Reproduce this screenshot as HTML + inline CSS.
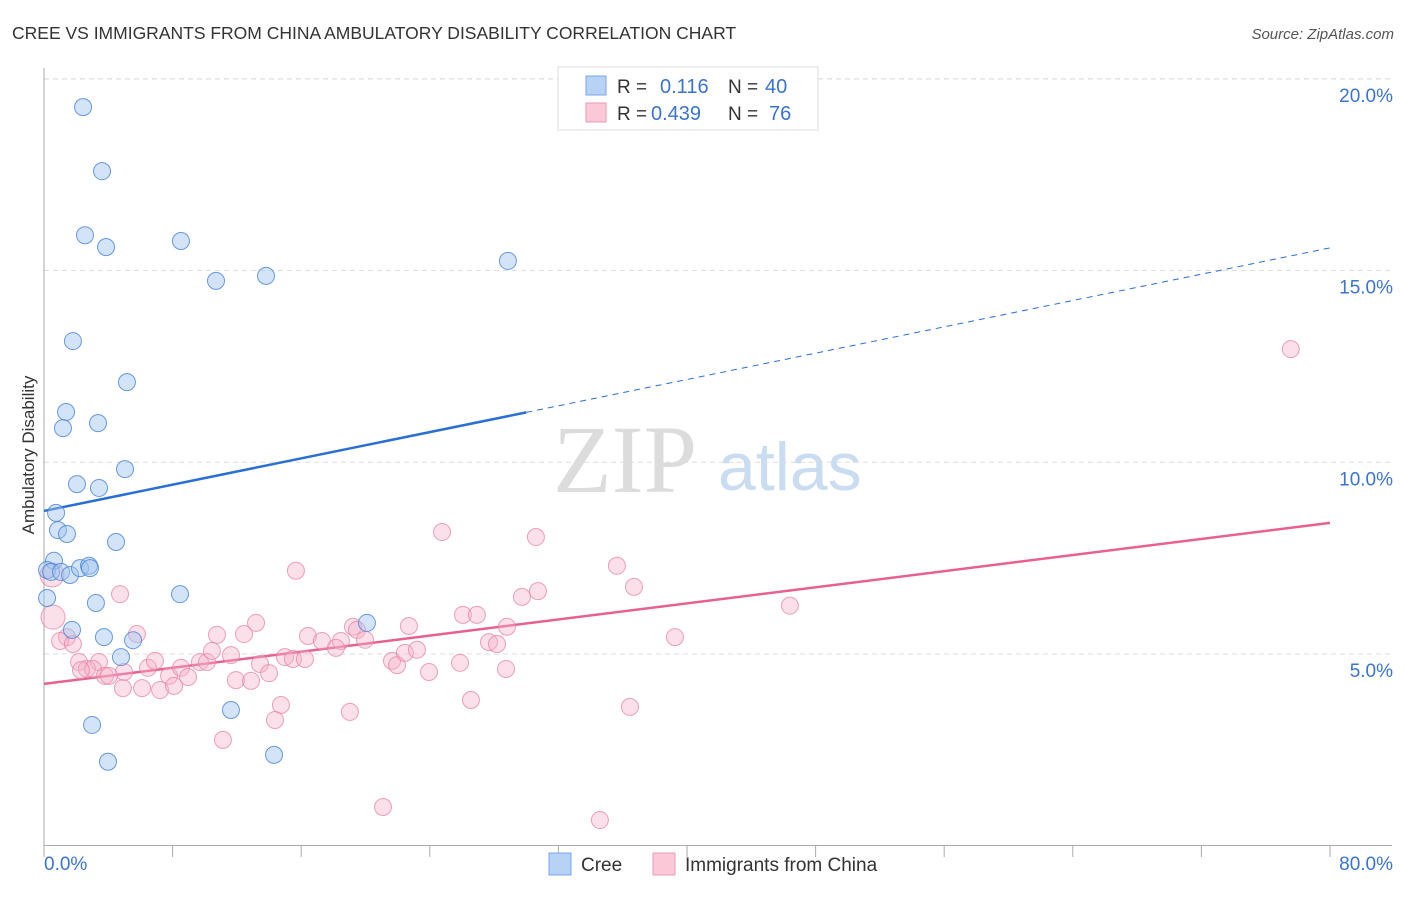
<!DOCTYPE html>
<html><head><meta charset="utf-8"><style>
body{margin:0;background:#fff;width:1406px;height:892px;overflow:hidden;font-family:"Liberation Sans",sans-serif}
</style></head><body>
<svg id="chart" width="1406" height="892" xmlns="http://www.w3.org/2000/svg" font-family="Liberation Sans, sans-serif">
<text x="12" y="39" font-size="17.5" fill="#333">CREE VS IMMIGRANTS FROM CHINA AMBULATORY DISABILITY CORRELATION CHART</text>
<text x="1394" y="39" font-size="15" fill="#555" font-style="italic" text-anchor="end">Source: ZipAtlas.com</text>
<g>
<text x="553" y="492" font-family="Liberation Serif, serif" font-size="96" fill="#dcdcdc">ZIP</text>
<text x="718" y="490" font-size="68" fill="#c9dcf2">atlas</text>
</g>
<g id="grid"></g>
<g id="axes"></g>
<g id="trends"></g>
<g id="points"></g>
<text transform="translate(34,455) rotate(-90)" font-size="17" fill="#333" text-anchor="middle">Ambulatory Disability</text>
<g>
<rect x="558" y="67" width="260" height="63" fill="#fff" stroke="#ddd"/>
<rect x="586" y="76" width="20" height="19" fill="#b7d2f5" stroke="#7aa7e6"/>
<rect x="586" y="103" width="20" height="19" fill="#fac8d6" stroke="#eb9ab4"/>
<text x="617" y="93" font-size="19" fill="#333">R =</text>
<text x="660" y="93" font-size="20" fill="#3a74d0">0.116</text>
<text x="728" y="93" font-size="19" fill="#333">N =</text>
<text x="765" y="93" font-size="20" fill="#3a74d0">40</text>
<text x="617" y="120" font-size="19" fill="#333">R =</text>
<text x="651" y="120" font-size="20" fill="#3a74d0">0.439</text>
<text x="728" y="120" font-size="19" fill="#333">N =</text>
<text x="769" y="120" font-size="20" fill="#3a74d0">76</text>
</g>
<g>
<rect x="549" y="853" width="22" height="22" fill="#b7d2f5" stroke="#7aa7e6"/>
<text x="581" y="871" font-size="19" fill="#333">Cree</text>
</g>
<g>
<rect x="653" y="853" width="22" height="22" fill="#fac8d6" stroke="#eb9ab4"/>
<text x="685" y="871" font-size="19" fill="#333">Immigrants from China</text>
</g>
</svg>
<script>
const yTicks=[5,10,15,20];
const yTickLabels=["5.0%","10.0%","15.0%","20.0%"];
const xTicks=[0,8,16,24,32,40,48,56,64,72,80];
const xEndLabels=["0.0%","80.0%"];
const creeX=[2.43,3.61,2.55,3.86,8.52,10.70,13.81,28.86,1.80,5.16,1.37,1.18,3.36,5.04,2.05,3.42,0.75,0.87,1.43,4.48,0.62,0.19,0.44,1.06,1.62,2.24,2.80,2.86,3.23,8.46,0.19,1.74,3.73,5.54,4.79,11.63,2.99,3.98,14.31,20.09];
const creeY=[19.26,17.59,15.92,15.61,15.77,14.73,14.86,15.25,13.16,12.09,11.31,10.89,11.02,9.82,9.43,9.33,8.68,8.23,8.13,7.92,7.43,7.19,7.14,7.14,7.06,7.24,7.30,7.24,6.33,6.56,6.46,5.63,5.44,5.36,4.92,3.54,3.15,2.19,2.37,5.81];
const chinaX=[77.56,24.76,30.60,35.64,30.73,36.70,29.73,46.40,26.06,26.93,15.67,4.73,0.56,0.50,13.19,5.78,10.76,12.44,16.42,17.29,18.47,18.16,19.22,19.47,19.97,22.70,28.80,27.68,28.18,39.25,1.43,1.00,1.80,2.18,3.42,2.67,3.05,3.79,4.98,6.47,6.90,7.78,8.52,8.96,9.70,10.14,10.45,11.63,13.44,14.99,15.49,16.23,21.65,21.96,22.45,23.20,25.88,28.74,4.91,6.10,7.22,8.09,11.94,12.88,14.00,23.95,14.74,14.37,19.03,26.56,36.45,11.13,21.09,34.58,4.04,2.30];
const chinaY=[12.95,8.18,8.05,7.30,6.64,6.75,6.49,6.26,6.02,6.02,7.17,6.56,5.96,7.06,5.81,5.52,5.50,5.52,5.47,5.34,5.34,5.16,5.71,5.63,5.37,5.73,5.71,5.31,5.26,5.44,5.44,5.34,5.26,4.79,4.79,4.61,4.61,4.43,4.53,4.64,4.82,4.43,4.64,4.40,4.79,4.79,5.08,4.97,4.74,4.92,4.87,4.87,4.82,4.71,5.03,5.11,4.77,4.61,4.11,4.11,4.06,4.17,4.32,4.30,4.50,4.53,3.67,3.28,3.49,3.80,3.62,2.76,1.01,0.67,4.43,4.58];
const creeTrendX=[0,30,80];
const creeTrendY=[8.73,11.30,15.59];
const chinaTrendX=[0,80];
const chinaTrendY=[4.22,8.42];

const NS="http://www.w3.org/2000/svg";
const X0=44,X1=1330,Y0=845.75,PPY=38.35;
function sx(v){return X0+(X1-X0)*v/80;}
function sy(v){return Y0-v*PPY;}
function mk(tag,attrs,parent){const e=document.createElementNS(NS,tag);for(const k in attrs)e.setAttribute(k,attrs[k]);parent.appendChild(e);return e;}
const grid=document.getElementById('grid'),axes=document.getElementById('axes'),trends=document.getElementById('trends'),pts=document.getElementById('points');
mk('line',{x1:44,x2:1392,y1:79,y2:79,stroke:'#ddd','stroke-dasharray':'5,4'},grid);
yTicks.forEach((t,i)=>{
  const l=mk('line',{x1:44,x2:1392,y1:sy(t),y2:sy(t),stroke:'#ddd','stroke-dasharray':'5,4'},grid);
  
  
  const tx=mk('text',{x:1393,y:sy(t)+23,'font-size':19,fill:'#3a74d0','text-anchor':'end'},axes);
  tx.textContent=yTickLabels[i];
  
  
});
mk('line',{x1:44,x2:44,y1:68,y2:846,stroke:'#aaa'},axes);
mk('line',{x1:44,x2:1392,y1:845.5,y2:845.5,stroke:'#aaa'},axes);
xTicks.forEach(t=>{
  const l=mk('line',{x1:sx(t),x2:sx(t),y1:845,y2:857,stroke:'#aaa'},axes);
  
  
});
const xl0=mk('text',{x:44,y:870,'font-size':19,fill:'#3a74d0'},axes);xl0.textContent=xEndLabels[0];


const xl1=mk('text',{x:1393,y:870,'font-size':19,fill:'#3a74d0','text-anchor':'end'},axes);xl1.textContent=xEndLabels[1];



chinaX.forEach((v,i)=>{
  const big=v<1;
  const c=mk('circle',{cx:sx(v),cy:sy(chinaY[i]),r:big?12:8.5,fill:'rgba(246,178,200,0.4)',stroke:'rgba(232,130,165,0.75)','stroke-width':1},pts);
  
  
});
creeX.forEach((v,i)=>{
  const c=mk('circle',{cx:sx(v),cy:sy(creeY[i]),r:8.5,fill:'rgba(160,196,240,0.45)',stroke:'rgba(70,130,215,0.8)','stroke-width':1},pts);
  
  
});
const t1=mk('line',{x1:sx(creeTrendX[0]),y1:sy(creeTrendY[0]),x2:sx(creeTrendX[1]),y2:sy(creeTrendY[1]),stroke:'#2a6fd4','stroke-width':2.5},trends);


const t2=mk('line',{x1:sx(creeTrendX[1]),y1:sy(creeTrendY[1]),x2:sx(creeTrendX[2]),y2:sy(creeTrendY[2]),stroke:'#2a6fd4','stroke-width':1,'stroke-dasharray':'6,5'},trends);


const t3=mk('line',{x1:sx(chinaTrendX[0]),y1:sy(chinaTrendY[0]),x2:sx(chinaTrendX[1]),y2:sy(chinaTrendY[1]),stroke:'#e8608e','stroke-width':2.5},trends);


</script>
</body></html>
